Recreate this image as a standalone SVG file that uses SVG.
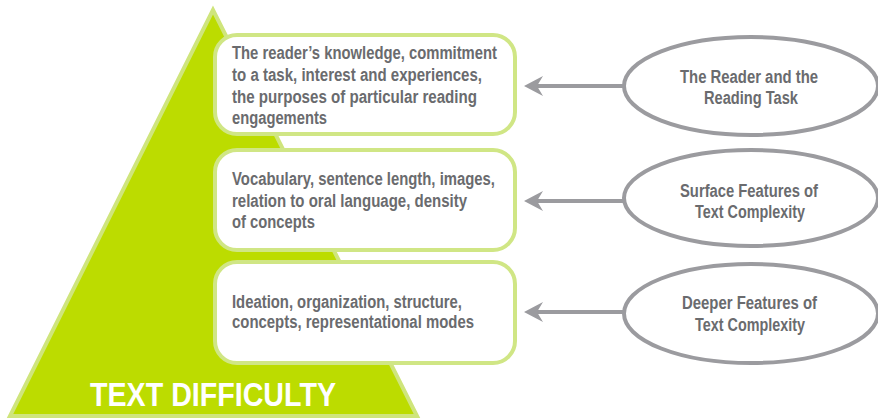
<svg xmlns="http://www.w3.org/2000/svg" width="878" height="418" viewBox="0 0 878 418">
<defs>
<style>
.box{fill:#ffffff;stroke:#d0e685;stroke-width:4}
.ell{fill:#ffffff;stroke:#9b9b9f;stroke-width:4}
.t{font-family:"Liberation Sans",Arial,sans-serif;font-weight:700;font-size:17.5px;fill:#6a6b6e}
.c{text-anchor:middle}
.conn line{stroke:#9b9b9f;stroke-width:4}
.conn polygon{fill:#9b9b9f}
</style>
</defs>
<g id="pyramid">
<polygon points="213,10 10,416 417,416" fill="#bcdc00" stroke="#cfe57c" stroke-width="4" stroke-linejoin="miter"/>
<text x="90" y="406" font-family="Liberation Sans,Arial,sans-serif" font-weight="700" font-size="32.5" fill="#ffffff" textLength="246" lengthAdjust="spacingAndGlyphs">TEXT DIFFICULTY</text>
</g>
<g id="box1">
<rect class="box" x="215" y="35" width="300" height="99" rx="22"/>
<text class="t" x="232" y="59" textLength="265" lengthAdjust="spacingAndGlyphs">The reader’s knowledge, commitment</text>
<text class="t" x="232" y="81" textLength="250" lengthAdjust="spacingAndGlyphs">to a task, interest and experiences,</text>
<text class="t" x="232" y="103" textLength="245" lengthAdjust="spacingAndGlyphs">the purposes of particular reading</text>
<text class="t" x="232" y="124" textLength="95" lengthAdjust="spacingAndGlyphs">engagements</text>
</g>
<g id="box2">
<rect class="box" x="215" y="150" width="300" height="100" rx="22"/>
<text class="t" x="232" y="185" textLength="263" lengthAdjust="spacingAndGlyphs">Vocabulary, sentence length, images,</text>
<text class="t" x="232" y="207" textLength="235" lengthAdjust="spacingAndGlyphs">relation to oral language, density</text>
<text class="t" x="232" y="228" textLength="83" lengthAdjust="spacingAndGlyphs">of concepts</text>
</g>
<g id="box3">
<rect class="box" x="215" y="262" width="300" height="101" rx="22"/>
<text class="t" x="232" y="308" textLength="230" lengthAdjust="spacingAndGlyphs">Ideation, organization, structure,</text>
<text class="t" x="232" y="328" textLength="242" lengthAdjust="spacingAndGlyphs">concepts, representational modes</text>
</g>
<g id="ellipse1">
<ellipse class="ell" cx="751" cy="86" rx="127" ry="49"/>
<text class="t c" x="749" y="83" textLength="138" lengthAdjust="spacingAndGlyphs">The Reader and the</text>
<text class="t c" x="751" y="104" textLength="94" lengthAdjust="spacingAndGlyphs">Reading Task</text>
</g>
<g id="ellipse2">
<ellipse class="ell" cx="751" cy="198" rx="127" ry="48"/>
<text class="t c" x="749" y="197" textLength="138" lengthAdjust="spacingAndGlyphs">Surface Features of</text>
<text class="t c" x="750" y="218" textLength="110" lengthAdjust="spacingAndGlyphs">Text Complexity</text>
</g>
<g id="ellipse3">
<ellipse class="ell" cx="751" cy="313.5" rx="127" ry="49.5"/>
<text class="t c" x="749.5" y="309" textLength="135" lengthAdjust="spacingAndGlyphs">Deeper Features of</text>
<text class="t c" x="750" y="331" textLength="110" lengthAdjust="spacingAndGlyphs">Text Complexity</text>
</g>
<g id="connectors" class="conn">
<line x1="624" y1="86" x2="536" y2="86"/>
<polygon points="524,86 543,76 537,86 543,96"/>
<line x1="624" y1="201" x2="536" y2="201"/>
<polygon points="524,201 543,191 537,201 543,211"/>
<line x1="624" y1="312" x2="536" y2="312"/>
<polygon points="524,312 543,302 537,312 543,322"/>
</g>
</svg>
